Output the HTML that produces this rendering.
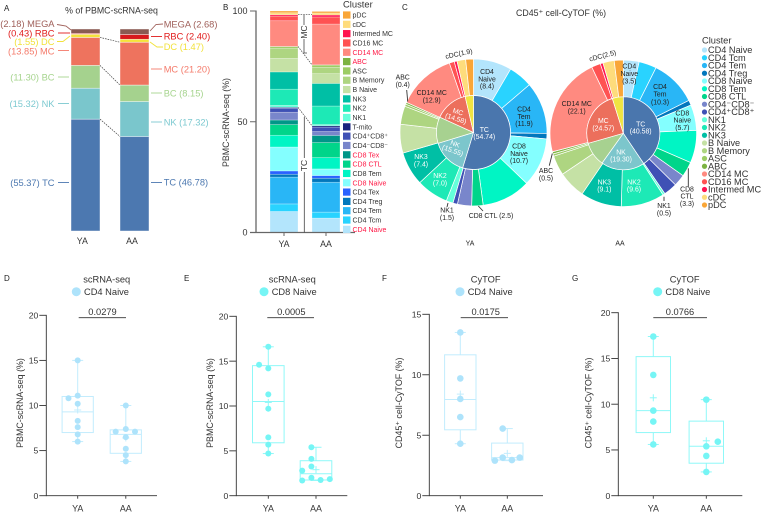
<!DOCTYPE html>
<html lang="en">
<head>
<meta charset="utf-8">
<title>PBMC scRNA-seq and CyTOF composition</title>
<style>
html,body{margin:0;padding:0;background:#fff;width:762px;height:512px;overflow:hidden}
svg{display:block;font-family:"Liberation Sans",Arial,sans-serif;filter:blur(.3px)}
text{fill:#333}
.pl{font-size:8px;fill:#222}
.al{font-size:9.3px}
.pie{font-size:6.9px;text-anchor:middle;fill:#222}
.piew{font-size:6.9px;text-anchor:middle;fill:#fff}
.mid{text-anchor:middle}
.ldr{fill:none;stroke-width:.9}
</style>
</head>
<body>
<svg id="figure" xmlns="http://www.w3.org/2000/svg" width="762" height="512" viewBox="0 0 762 512">
  <g id="panelA"></g>
  <g id="panelB"></g>
  <g id="panelC"></g>
  <g id="panelD"></g>
  <g id="panelE"></g>
  <g id="panelF"></g>
  <g id="panelG"></g>

  <g>
    <text class="pl" x="4" y="11">A</text>
    <text class="pl" x="223" y="10">B</text>
    <text class="pl" x="402" y="10">C</text>
    <text class="pl" x="4" y="281">D</text>
    <text class="pl" x="184" y="281">E</text>
    <text class="pl" x="382" y="281">F</text>
    <text class="pl" x="572" y="281">G</text>
  </g>

  <text x="111.5" y="13.5" class="mid" font-size="8.8">% of PBMC-scRNA-seq</text>
  <g class="al" text-anchor="end">
    <text class="al" x="54.5" y="27" style="fill:#a0605a">(2.18) MEGA</text>
    <text class="al" x="54.5" y="36.3" style="fill:#e01b1b">(0.43) RBC</text>
    <text class="al" x="54.5" y="45" style="fill:#f2e23c">(1.55) DC</text>
    <text class="al" x="54.5" y="54.3" style="fill:#f47a6a">(13.85) MC</text>
    <text class="al" x="54.5" y="80.3" style="fill:#a6d48e">(11.30) BC</text>
    <text class="al" x="54.5" y="106.8" style="fill:#7cc9d0">(15.32) NK</text>
    <text class="al" x="54.5" y="185.8" style="fill:#4c78b0">(55.37) TC</text>
  </g>
  <g>
    <text class="al" x="163.7" y="27.3" style="fill:#a0605a">MEGA (2.68)</text>
    <text class="al" x="163.7" y="39.3" style="fill:#e01b1b">RBC (2.40)</text>
    <text class="al" x="163.7" y="50" style="fill:#f2e23c">DC (1.47)</text>
    <text class="al" x="163.7" y="72.3" style="fill:#f47a6a">MC (21.20)</text>
    <text class="al" x="163.7" y="96.3" style="fill:#a6d48e">BC (8.15)</text>
    <text class="al" x="163.7" y="125.3" style="fill:#7cc9d0">NK (17.32)</text>
    <text class="al" x="163.7" y="185.5" style="fill:#4c78b0">TC (46.78)</text>
  </g>
  <g>
    <polyline class="ldr" stroke="#a0605a" points="57,24.5 66,26 71,30"/>
    <polyline class="ldr" stroke="#e01b1b" points="58,33 70,33"/>
    <polyline class="ldr" stroke="#f2e23c" points="57,41.5 63,41.5 70,36"/>
    <polyline class="ldr" stroke="#f47a6a" points="58,50.5 69,50.5"/>
    <polyline class="ldr" stroke="#a6d48e" points="58,77 69,77"/>
    <polyline class="ldr" stroke="#7cc9d0" points="58,103.5 69,103.5"/>
    <polyline class="ldr" stroke="#4c78b0" points="58,182.5 69,182.5"/>
    <polyline class="ldr" stroke="#a0605a" points="150,31 156,24.5 163,24"/>
    <polyline class="ldr" stroke="#e01b1b" points="151,36.5 162,36.5"/>
    <polyline class="ldr" stroke="#f2e23c" points="150,42 157,47 163,47"/>
    <polyline class="ldr" stroke="#f47a6a" points="151,69 162,69"/>
    <polyline class="ldr" stroke="#a6d48e" points="151,93 162,93"/>
    <polyline class="ldr" stroke="#7cc9d0" points="151,122 162,122"/>
    <polyline class="ldr" stroke="#4c78b0" points="151,182.5 162,182.5"/>
  </g>

  <text transform="translate(229,122.5) rotate(-90)" class="mid" font-size="8.8">PBMC-scRNA-seq (%)</text>
  <g>
    <polyline fill="none" stroke="#444" stroke-width=".8" points="304,14.7 304,53 307,53"/>
    <rect x="300" y="25" width="8" height="14" fill="#fff"/>
    <text transform="translate(307,32) rotate(-90)" class="mid" font-size="8.5">MC</text>
    <line x1="304.3" y1="117" x2="304.3" y2="232.5" stroke="#444" stroke-width=".8"/>
    <rect x="300" y="158" width="8" height="14" fill="#fff"/>
    <text transform="translate(307,165.5) rotate(-90)" class="mid" font-size="8.5">TC</text>
  </g>

  <text x="561" y="16" class="mid" font-size="8.8">CD45⁺ cell-CyTOF (%)</text>
  <g>
    <text class="pie"><tspan x="487" y="74">CD4</tspan><tspan x="487" y="81.3">Naive</tspan><tspan x="487" y="88.6">(8.4)</tspan></text>
    <text class="pie"><tspan x="524" y="111.5">CD4</tspan><tspan x="524" y="118.8">Tem</tspan><tspan x="524" y="126">(11.9)</tspan></text>
    <text class="pie"><tspan x="519" y="148.5">CD8</tspan><tspan x="519" y="155.8">Naive</tspan><tspan x="519" y="163">(10.7)</tspan></text>
    <text class="piew"><tspan x="421" y="159">NK3</tspan><tspan x="421" y="166.5">(7.4)</tspan></text>
    <text class="piew"><tspan x="440" y="178">NK2</tspan><tspan x="440" y="185.5">(7.0)</tspan></text>
    <text class="pie"><tspan x="431.7" y="95">CD14 MC</tspan><tspan x="431.7" y="102.3">(12.9)</tspan></text>
    <text class="piew"><tspan x="484.3" y="131.8">TC</tspan><tspan x="484.3" y="138.8">(54.74)</tspan></text>
    <text class="piew" transform="rotate(20 454 147)"><tspan x="454" y="146">NK</tspan><tspan x="454" y="153">(15.55)</tspan></text>
    <text class="piew" transform="rotate(18 457 115)"><tspan x="457" y="114">MC</tspan><tspan x="457" y="121">(14.58)</tspan></text>
    <text class="pie"><tspan x="402.7" y="79.5">ABC</tspan><tspan x="402.7" y="86.8">(0.4)</tspan></text>
    <text class="pie" transform="rotate(-12 459 54)" x="459" y="56">cDC(1.9)</text>
    <text class="pie"><tspan x="447" y="212.5">NK1</tspan><tspan x="447" y="220">(1.5)</tspan></text>
    <text class="pie" x="491" y="218">CD8 CTL (2.5)</text>
    <polyline class="ldr" stroke="#333" points="406.7,90 407.7,101.5"/>
    <polyline class="ldr" stroke="#333" points="448,203 447,207"/>
    <polyline class="ldr" stroke="#333" points="478.3,206 483,211"/>
    <text class="pie" x="470" y="245.5">YA</text>
  </g>
  <g>
    <text class="pie"><tspan x="629.3" y="68.5">CD4</tspan><tspan x="629.3" y="75.8">Naive</tspan><tspan x="629.3" y="83.5">(3.5)</tspan></text>
    <text class="pie"><tspan x="660" y="89">CD4</tspan><tspan x="660" y="96.6">Tem</tspan><tspan x="660" y="104.3">(10.3)</tspan></text>
    <text class="pie"><tspan x="682.3" y="115.5">CD8</tspan><tspan x="682.3" y="122.5">Naive</tspan><tspan x="682.3" y="129.8">(5.7)</tspan></text>
    <text class="pie"><tspan x="576.7" y="106">CD14 MC</tspan><tspan x="576.7" y="113.3">(22.1)</tspan></text>
    <text class="piew"><tspan x="603.3" y="123">MC</tspan><tspan x="603.3" y="130.6">(24.57)</tspan></text>
    <text class="piew"><tspan x="640.7" y="126.5">TC</tspan><tspan x="640.7" y="133.5">(40.58)</tspan></text>
    <text class="piew"><tspan x="621" y="154.7">NK</tspan><tspan x="621" y="161.7">(19.30)</tspan></text>
    <text class="piew"><tspan x="604.3" y="184.7">NK3</tspan><tspan x="604.3" y="191.7">(9.1)</tspan></text>
    <text class="piew"><tspan x="634" y="184.7">NK2</tspan><tspan x="634" y="191.7">(9.6)</tspan></text>
    <text class="pie" transform="rotate(-15 602.7 56)" x="602.7" y="58">cDC(2.5)</text>
    <text class="pie"><tspan x="546" y="173">ABC</tspan><tspan x="546" y="180.5">(0.5)</tspan></text>
    <text class="pie"><tspan x="664" y="208">NK1</tspan><tspan x="664" y="215.5">(0.5)</tspan></text>
    <text class="pie"><tspan x="687" y="191.5">CD8</tspan><tspan x="687" y="198.6">CTL</tspan><tspan x="687" y="206">(3.3)</tspan></text>
    <polyline class="ldr" stroke="#333" points="549.3,165.7 552.3,153.5"/>
    <polyline class="ldr" stroke="#333" points="664,196.7 664,201"/>
    <polyline class="ldr" stroke="#333" points="688.3,168.3 688.3,186.7"/>
    <text class="pie" x="620" y="245.5">AA</text>
  </g>
</svg>

<script>
// ---------- Panel A data ----------
var lineageNames = ['TC', 'NK', 'BC', 'MC', 'DC', 'RBC', 'MEGA'];
var lineageColors = ['#4c78b0', '#7ac6cc', '#a5d28e', '#ee735e', '#f5e33a', '#d7191c', '#8a5a52'];
var lineageYA = [55.37, 15.32, 11.30, 13.85, 1.55, 0.43, 2.18];
var lineageAA = [46.78, 17.32, 8.15, 21.20, 1.47, 2.40, 2.68];

// ---------- Panel B data ----------
var scClusters = ['CD4 Naive', 'CD4 Tcm', 'CD4 Tem', 'CD4 Treg', 'CD4 Tex', 'CD8 Naive', 'CD8 Tem', 'CD8 CTL', 'CD8 Tex', 'CD4⁻CD8⁻', 'CD4⁺CD8⁺', 'T-mito', 'NK1', 'NK2', 'NK3', 'B Naive', 'B Memory', 'ASC', 'ABC', 'CD14 MC', 'CD16 MC', 'Intermed MC', 'cDC', 'pDC'];
var scColors = ['#b3e5fc', '#29d3ff', '#29b6f6', '#0277bd', '#2962ff', '#84ffff', '#00f5c4', '#00d58a', '#009688', '#7986cb', '#3f51b5', '#1a237e', '#64ffda', '#1de9b6', '#00bfa5', '#c5e1a5', '#aed581', '#9ccc65', '#7cb342', '#ff8a80', '#ff5252', '#ff1450', '#fedc7c', '#f9a638'];
var scYA = [9.5, 3.4, 12.1, 1.3, 1.5, 10.8, 5.3, 4.8, 2.1, 3.5, 1.8, 0.4, 0.9, 7.3, 7.8, 6.1, 4.6, 0.7, 0.1, 11.6, 2.1, 0.6, 0.9, 0.8];
var scAA = [6.5, 2.7, 13.5, 1.8, 1.2, 3.0, 5.1, 6.8, 3.2, 1.8, 2.0, 0.6, 0.5, 8.4, 10.2, 4.4, 2.9, 1.0, 0.1, 18.4, 3.2, 0.9, 0.9, 0.7];
var scRedNames = ['CD14 MC', 'ABC', 'CD8 Tex', 'CD8 CTL', 'CD8 Naive', 'CD4 Naive'];
var scTicks = [0, 50, 100];

// ---------- Panel C data ----------
var cyClusters = ['CD4 Naive', 'CD4 Tcm', 'CD4 Tem', 'CD4 Treg', 'CD8 Naive', 'CD8 Tem', 'CD8 CTL', 'CD4⁻CD8⁻', 'CD4⁺CD8⁺', 'NK1', 'NK2', 'NK3', 'B Naive', 'B Memory', 'ASC', 'ABC', 'CD14 MC', 'CD16 MC', 'Intermed MC', 'cDC', 'pDC'];
var cyOuterYA = [8.4, 5.3, 11.4, 1.2, 10.7, 10.7, 2.5, 3.1, 1.0, 1.5, 7.0, 7.4, 6.3, 4.0, 0.5, 0.4, 12.9, 1.1, 0.6, 1.9, 1.7];
var cyOuterAA = [3.5, 3.9, 10.3, 1.1, 5.7, 7.2, 3.3, 2.6, 3.0, 0.5, 9.6, 9.1, 6.1, 4.4, 0.5, 0.5, 22.1, 2.0, 0.6, 2.5, 2.0];
var cyInnerNames = ['TC', 'NK', 'BC', 'MC', 'DC'];
var cyInnerColors = ['#4a76ad', '#7cc6cc', '#a7d190', '#ec6f5c', '#f0e442'];
var cyInnerYA = [54.74, 15.55, 11.5, 14.58, 3.63];
var cyInnerAA = [40.58, 19.30, 10.7, 24.57, 4.85];

// ---------- Panel D data (box stats: whisker low, Q1, median, Q3, whisker high, mean) ----------
var dPointsYA = [15, 11.1, 10.8, 10.2, 8.3, 7.6, 6.8, 6];
var dPointsAA = [10, 7.4, 7.1, 7.1, 6.5, 5.2, 4.5, 3.8];
var dBoxYA = [6, 7.0, 9.3, 11.0, 15, 9.5];
var dBoxAA = [3.8, 4.7, 6.8, 7.3, 10, 6.4];
var dSwarmYA = [0, 0, -2, 0, 0, 0, 0, 0];
var dSwarmAA = [0, 0, -2.2, 2, 0, 0, 0, 0];
var dTicks = [0, 5, 10, 15, 20];

// ---------- Panel E data ----------
var ePointsYA = [16.6, 14.6, 14.2, 11.3, 9.7, 6.5, 5.7, 4.7];
var ePointsAA = [5.4, 4.1, 3.25, 2.8, 2.0, 1.85, 1.75, 1.7];
var eBoxYA = [4.7, 5.9, 10.5, 14.5, 16.6, 10.4];
var eBoxAA = [1.7, 1.75, 2.45, 3.9, 5.4, 2.9];
var eSwarmYA = [0, -2, 0, 0, 0, 0, 0, 0];
var eSwarmAA = [-1, -1, -1, -3, -1, 3, 1, -3];
var eTicks = [0, 5, 10, 15, 20];

// ---------- Panel F data ----------
var fPointsYA = [13.5, 9.7, 8.0, 6.5, 4.3];
var fPointsAA = [5.55, 3.15, 2.9, 2.95, 3.15];
var fBoxYA = [4.3, 5.45, 7.95, 11.65, 13.5, 8.4];
var fBoxAA = [2.9, 2.95, 3.15, 4.35, 5.55, 3.5];
var fSwarmYA = [0, 0, 0, 0, 0];
var fSwarmAA = [-1, -1, -2.7, 1, 2.7];
var fTicks = [0, 5, 10, 15];

// ---------- Panel G data ----------
var gPointsYA = [17.4, 13.2, 9.3, 8.1, 5.6];
var gPointsAA = [10.5, 5.9, 5.4, 4.35, 2.6];
var gBoxYA = [5.6, 6.9, 9.3, 15.2, 17.4, 10.7];
var gBoxAA = [2.6, 3.55, 5.4, 8.15, 10.5, 6.0];
var gSwarmYA = [0, 0, 0, 0, 0];
var gSwarmAA = [0, 2.5, 0, 0, 0];
var gTicks = [0, 5, 10, 15, 20];

var groupLabels = ['YA', 'AA'];
var NS = 'http://www.w3.org/2000/svg';

function mk(parent, tag, attrs, name, content) {
  var el = document.createElementNS(NS, tag);
  for (var k in attrs) el.setAttribute(k, attrs[k]);
  
  
  if (content !== undefined) el.textContent = content;
  parent.appendChild(el);
  return el;
}
function slug(s) {
  return s.toLowerCase().replace('⁻', '-neg-').replace('⁺', '-pos-').replace(/[^a-z0-9]+/g, '-');
}

// Stacked column from values through a y scale; returns cumulative tops.
function stack(parent, vals, names, colors, x, w, yScale, strokeCol, prefix) {
  var sum = 0, tops = [];
  vals.forEach(function (v, i) {
    var y1 = yScale(sum), y2 = yScale(sum + v);
    mk(parent, 'rect', { x: x, y: y2, width: w, height: Math.max(0, y1 - y2), fill: colors[i], stroke: strokeCol, 'stroke-width': 0.6 }, prefix + '-segment-' + slug(names[i]));
    sum += v;
    tops.push(sum);
  });
  return tops;
}

// ---------- Panel A ----------
(function () {
  var g = document.getElementById('panelA');
  var total = 100;
  var yA = function (v) { return 231 - v / total * 202; };
  var topsYA = stack(g, lineageYA, lineageNames, lineageColors, 71, 29, yA, 'rgba(255,255,255,.7)', 'ya');
  var topsAA = stack(g, lineageAA, lineageNames, lineageColors, 120, 29, yA, 'rgba(255,255,255,.7)', 'aa');
  [0, 2, 3].forEach(function (i) {
    mk(g, 'line', { x1: 100, y1: yA(topsYA[i]), x2: 120, y2: yA(topsAA[i]), stroke: '#444', 'stroke-width': 0.7, 'stroke-dasharray': '1.6 1' }, 'connector-' + slug(lineageNames[i]));
  });
  mk(g, 'text', { x: 82.3, y: 244, 'font-size': 8.8, 'text-anchor': 'middle' }, 'x-label-ya', groupLabels[0]);
  mk(g, 'text', { x: 132, y: 244, 'font-size': 8.8, 'text-anchor': 'middle' }, 'x-label-aa', groupLabels[1]);
})();

// ---------- Panel B ----------
(function () {
  var g = document.getElementById('panelB');
  var yB = function (v) { return 232.5 - v / 100 * 221.5; };
  var topsYA = stack(g, scYA, scClusters, scColors, 270, 28, yB, 'rgba(255,255,255,.45)', 'ya');
  var topsAA = stack(g, scAA, scClusters, scColors, 312, 28, yB, 'rgba(255,255,255,.45)', 'aa');
  [11, 18].forEach(function (i) {
    mk(g, 'line', { x1: 298, y1: yB(topsYA[i]), x2: 312, y2: yB(topsAA[i]), stroke: '#444', 'stroke-width': 0.7, 'stroke-dasharray': '1.6 1' }, 'connector-' + slug(scClusters[i]));
  });
  mk(g, 'line', { x1: 298, y1: 14.7, x2: 312, y2: 14.7, stroke: '#444', 'stroke-width': 0.7, 'stroke-dasharray': '1.6 1' }, 'connector-top');
  mk(g, 'line', { x1: 256, y1: 10.5, x2: 256, y2: 233, stroke: '#666', 'stroke-width': 1.3 }, 'y-axis');
  mk(g, 'line', { x1: 250, y1: 232.5, x2: 355, y2: 232.5, stroke: '#666', 'stroke-width': 1.3 }, 'x-axis');
  scTicks.forEach(function (t) {
    mk(g, 'line', { x1: 250, y1: yB(t), x2: 256, y2: yB(t), stroke: '#666', 'stroke-width': 1 }, 'y-tick-' + t);
    mk(g, 'text', { x: 247.5, y: yB(t) + 3.2, 'font-size': 9, 'text-anchor': 'end' }, 'y-tick-label-' + t, String(t));
  });
  [284, 326].forEach(function (x, i) {
    mk(g, 'line', { x1: x, y1: 232.5, x2: x, y2: 236, stroke: '#666', 'stroke-width': 1 }, 'x-tick-' + groupLabels[i].toLowerCase());
    mk(g, 'text', { x: x, y: 247, 'font-size': 8.8, 'text-anchor': 'middle' }, 'x-label-' + groupLabels[i].toLowerCase(), groupLabels[i]);
  });
  // legend, top row = last cluster
  mk(g, 'text', { x: 343, y: 7.5, 'font-size': 9.4, fill: '#222' }, 'legend-title', 'Cluster');
  var rev = scClusters.slice().reverse();
  var revCol = scColors.slice().reverse();
  rev.forEach(function (name, i) {
    var cy = 15 + i * 9.32;
    mk(g, 'rect', { x: 343, y: cy - 3.6, width: 7.5, height: 7.2, fill: revCol[i] }, 'legend-swatch-' + slug(name));
    var t = mk(g, 'text', { x: 352.5, y: cy + 2.5, 'font-size': 7 }, 'legend-entry-' + slug(name), name);
    if (scRedNames.indexOf(name) >= 0) t.style.fill = '#ff1744';
  });
})();

// ---------- Panel C ----------
function colorForCy(name) { return scColors[scClusters.indexOf(name)]; }
function polar(cx, cy, r, pct) {
  var a = pct / 100 * 2 * Math.PI;
  return [cx + r * Math.sin(a), cy - r * Math.cos(a)];
}
function ring(parent, vals, names, colorOf, cx, cy, r0, r1, prefix) {
  var total = vals.reduce(function (a, b) { return a + b; }, 0), sum = 0;
  vals.forEach(function (v, i) {
    var a = sum / total * 100, b = (sum + v) / total * 100;
    sum += v;
    var p1 = polar(cx, cy, r1, a), p2 = polar(cx, cy, r1, b);
    var large = b - a > 50 ? 1 : 0, d;
    if (r0 > 0) {
      var p3 = polar(cx, cy, r0, b), p4 = polar(cx, cy, r0, a);
      d = 'M' + p1 + 'A' + r1 + ',' + r1 + ' 0 ' + large + ' 1 ' + p2 + 'L' + p3 + 'A' + r0 + ',' + r0 + ' 0 ' + large + ' 0 ' + p4 + 'Z';
    } else {
      d = 'M' + cx + ',' + cy + 'L' + p1 + 'A' + r1 + ',' + r1 + ' 0 ' + large + ' 1 ' + p2 + 'Z';
    }
    mk(parent, 'path', { d: d, fill: colorOf(names[i], i), stroke: '#fff', 'stroke-width': 0.7 }, prefix + '-' + slug(names[i]));
  });
}
(function () {
  var g = document.getElementById('panelC');
  var innerColor = function (n, i) { return cyInnerColors[i]; };
  ring(g, cyOuterYA, cyClusters, colorForCy, 473.5, 132.5, 37, 73.5, 'ya-outer-slice');
  ring(g, cyInnerYA, cyInnerNames, innerColor, 473.5, 132.5, 0, 37, 'ya-inner-slice');
  ring(g, cyOuterAA, cyClusters, colorForCy, 623.3, 133.3, 36.5, 73.3, 'aa-outer-slice');
  ring(g, cyInnerAA, cyInnerNames, innerColor, 623.3, 133.3, 0, 36.5, 'aa-inner-slice');
  mk(g, 'text', { x: 702, y: 43.5, 'font-size': 9.3, fill: '#222' }, 'legend-title-2', 'Cluster');
  cyClusters.forEach(function (name, i) {
    var cy = 50 + i * 7.75;
    mk(g, 'circle', { cx: 704.5, cy: cy, r: 2.6, fill: colorForCy(name) }, 'legend-dot-' + slug(name));
    mk(g, 'text', { x: 708, y: cy + 3.2, 'font-size': 9.2 }, 'legend-entry-' + slug(name), name);
  });
})();

// ---------- Box plots ----------
function boxPanel(id, o) {
  var g = document.getElementById(id);
  var y = function (v) { return o.y0 - v / o.max * (o.y0 - o.yTop); };
  mk(g, 'line', { x1: o.ax, y1: o.yTop - 0.4, x2: o.ax, y2: o.y0 + 0.4, stroke: '#333', 'stroke-width': 0.9 }, 'y-axis');
  mk(g, 'line', { x1: o.ax, y1: o.y0, x2: o.xEnd, y2: o.y0, stroke: '#333', 'stroke-width': 0.9 }, 'x-axis');
  o.ticks.forEach(function (t) {
    mk(g, 'line', { x1: o.ax - 7, y1: y(t), x2: o.ax, y2: y(t), stroke: '#333', 'stroke-width': 0.9 }, 'y-tick-' + t);
    mk(g, 'text', { x: o.ax - 8, y: y(t) + 3.1, 'font-size': 8.6, 'text-anchor': 'end' }, 'y-tick-label-' + t, String(t));
  });
  mk(g, 'text', { transform: 'translate(' + o.ylx + ',403) rotate(-90)', 'font-size': 8.9, 'text-anchor': 'middle' }, 'y-axis-title', o.ylabel);
  mk(g, 'text', { x: o.titleX, y: 282.5, 'font-size': 9.3, 'text-anchor': 'middle' }, 'panel-title', o.title);
  mk(g, 'circle', { cx: o.dotX, cy: 291.7, r: 4.5, fill: o.dot }, 'legend-dot');
  mk(g, 'text', { x: o.dotX + 7.7, y: 295, 'font-size': 9.3 }, 'legend-label', o.legend);
  mk(g, 'line', { x1: o.sig[0], y1: 317.7, x2: o.sig[1], y2: 317.7, stroke: '#333', 'stroke-width': 0.8 }, 'significance-bar');
  mk(g, 'text', { x: o.pX, y: 315, 'font-size': 9.3, 'text-anchor': 'middle' }, 'p-value', o.p);
  [0, 1].forEach(function (k) {
    var key = groupLabels[k].toLowerCase();
    var c = o.cx[k], b = o.box[k], hw = o.hw;
    mk(g, 'line', { x1: c, y1: o.y0, x2: c, y2: o.y0 + 3, stroke: '#333', 'stroke-width': 0.9 }, 'x-tick-' + key);
    mk(g, 'text', { x: c, y: 511.5, 'font-size': 8.9, 'text-anchor': 'middle' }, 'x-label-' + key, groupLabels[k]);
    function ln(x1, y1, x2, y2, n) {
      mk(g, 'line', { x1: x1, y1: y1, x2: x2, y2: y2, stroke: o.line, 'stroke-width': 1 }, key + '-' + n);
    }
    ln(c, y(b[0]), c, y(b[1]), 'whisker-low');
    ln(c, y(b[3]), c, y(b[4]), 'whisker-high');
    ln(c - 5.5, y(b[0]), c + 5.5, y(b[0]), 'cap-low');
    ln(c - 5.5, y(b[4]), c + 5.5, y(b[4]), 'cap-high');
    mk(g, 'rect', { x: c - hw, y: y(b[3]), width: 2 * hw, height: y(b[1]) - y(b[3]), stroke: o.line, 'stroke-width': 1, fill: 'none' }, key + '-box');
    ln(c - hw, y(b[2]), c + hw, y(b[2]), 'median');
    ln(c - 3.5, y(b[5]), c + 3.5, y(b[5]), 'mean-h');
    ln(c, y(b[5]) - 3.5, c, y(b[5]) + 3.5, 'mean-v');
    o.pts[k].forEach(function (v, i) {
      mk(g, 'circle', { cx: c + o.swarm[k][i] * 4.6, cy: y(v), r: o.r, fill: o.dot }, key + '-point');
    });
  });
}
var cd4Dot = '#aee3fb', cd4Line = '#c2ecfd', cd8Dot = '#76f5f5', cd8Line = '#8ff8f8';
boxPanel('panelD', { ax: 46.3, xEnd: 157, y0: 495.7, yTop: 315.3, max: 20, ticks: dTicks, ylx: 23, ylabel: 'PBMC-scRNA-seq (%)', titleX: 106.7, title: 'scRNA-seq', dotX: 76.3, legend: 'CD4 Naive', dot: cd4Dot, line: cd4Line, sig: [78.7, 126], pX: 102.5, p: '0.0279', cx: [77.7, 125.8], hw: 15.6, box: [dBoxYA, dBoxAA], pts: [dPointsYA, dPointsAA], swarm: [dSwarmYA, dSwarmAA], r: 3 });
boxPanel('panelE', { ax: 236.3, xEnd: 347.3, y0: 495.7, yTop: 316.3, max: 20, ticks: eTicks, ylx: 213, ylabel: 'PBMC-scRNA-seq (%)', titleX: 292.3, title: 'scRNA-seq', dotX: 264, legend: 'CD8 Naive', dot: cd8Dot, line: cd8Line, sig: [267.3, 314], pX: 291.3, p: '0.0005', cx: [268.3, 316], hw: 15.8, box: [eBoxYA, eBoxAA], pts: [ePointsYA, ePointsAA], swarm: [eSwarmYA, eSwarmAA], r: 3 });
boxPanel('panelF', { ax: 429.3, xEnd: 543, y0: 495.7, yTop: 314.3, max: 15, ticks: fTicks, ylx: 402, ylabel: 'CD45⁺ cell-CyTOF (%)', titleX: 485.7, title: 'CyTOF', dotX: 460, legend: 'CD4 Naive', dot: cd4Dot, line: cd4Line, sig: [460.7, 508], pX: 485.7, p: '0.0175', cx: [460.3, 507.3], hw: 15.7, box: [fBoxYA, fBoxAA], pts: [fPointsYA, fPointsAA], swarm: [fSwarmYA, fSwarmAA], r: 3.3 });
boxPanel('panelG', { ax: 618.3, xEnd: 742.3, y0: 495.7, yTop: 312.7, max: 20, ticks: gTicks, ylx: 591.5, ylabel: 'CD45⁺ cell-CyTOF (%)', titleX: 684.7, title: 'CyTOF', dotX: 657.7, legend: 'CD8 Naive', dot: cd8Dot, line: cd8Line, sig: [653.3, 707], pX: 680, p: '0.0766', cx: [653.3, 706.3], hw: 17.2, box: [gBoxYA, gBoxAA], pts: [gPointsYA, gPointsAA], swarm: [gSwarmYA, gSwarmAA], r: 3.3 });
</script>
</body>
</html>
